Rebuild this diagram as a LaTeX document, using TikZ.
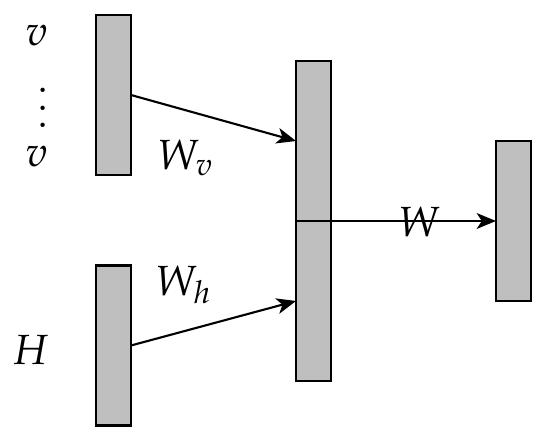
\documentclass[tikz,border=0pt]{standalone}
\usepackage{mathpazo}
\usepackage{tikz}
\usepackage{xcolor}
\usetikzlibrary{arrows.meta, positioning, calc}
\definecolor{cellgray}{HTML}{BFBFBF}

\begin{document}
\begin{tikzpicture}[font=\large,
    cell/.style={draw, fill=cellgray, line width=0.7pt, rectangle, minimum width=0.35cm, minimum height=1.6cm, inner sep=0pt, outer sep=0pt},
    link/.style={line width=0.6pt, -{Stealth[length=5.5pt, width=4.5pt, inset=1.5pt]}}]
    \useasboundingbox (0,0) rectangle (5.5,4.44);

    % Input layers
    \node[cell] (vis) at (1.135,3.49) {};
    \node[cell] (hid) at (1.135,0.985) {};

    % Stacked middle layer
    \node[cell] (midtop) at (3.135,3.03) {};
    \node[cell, below=0pt of midtop] (midbot) {};

    % Output layer
    \node[cell] (out) at (5.135,2.23) {};

    % Side labels
    \node (vtop) at (0.37,4.08) {$v$};
    \node[align=center, inner sep=0pt, font={\fontsize{15}{4.9}\selectfont}] (vdots) at (0.43,3.36) {.\\.\\.};
    \node (vbot) at (0.37,2.87) {$v$};
    \node (hlab) at (0.31,0.94) {$H$};

    % Connections
    \draw[link] (vis.east) -- (midtop.west);
    \draw[link] (hid.east) -- (midbot.west);
    \draw[link] (midtop.south east) -- (out.west);

    % Weight labels
    \node (wv) at (1.86,2.86) {$W_v$};
    \node (wh) at (1.84,1.59) {$W_h$};
    \node (w) at (4.2,2.22) {$W$};
\end{tikzpicture}
\end{document}
